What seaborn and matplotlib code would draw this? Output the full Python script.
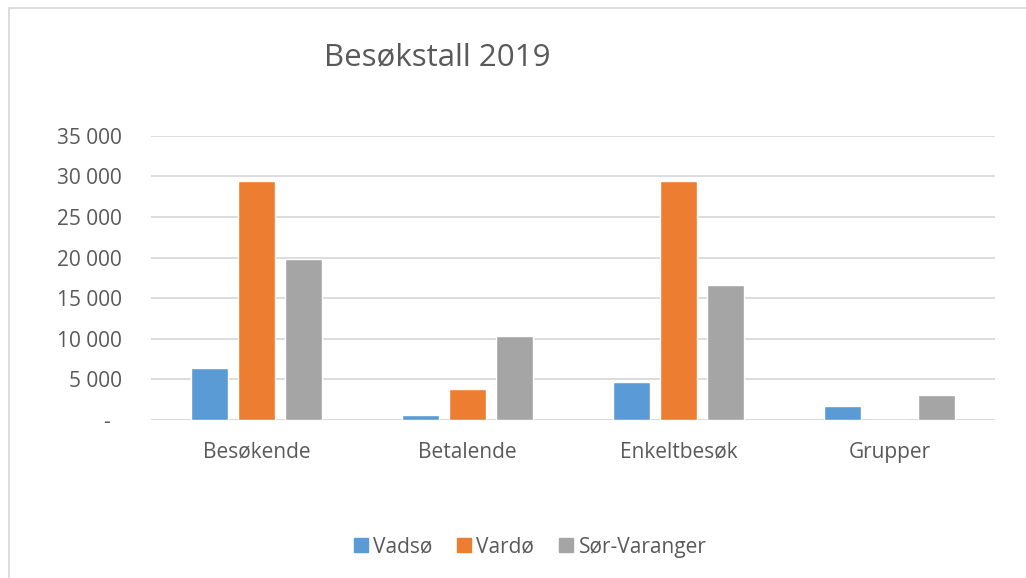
import matplotlib
matplotlib.use("Agg")
import matplotlib.pyplot as plt
import matplotlib.patches as mpatches
import seaborn as sns
import pandas as pd

categories = ["Besøkende", "Betalende", "Enkeltbesøk", "Grupper"]
series_names = ["Vadsø", "Vardø", "Sør-Varanger"]
vadso = [6420, 620, 4650, 1700]
vardo = [29450, 3800, 29400, 0]
sor_varanger = [19830, 10300, 16620, 3130]
y_ticks = [0, 5000, 10000, 15000, 20000, 25000, 30000, 35000]
y_tick_labels = ["-  ", "5 000", "10 000", "15 000", "20 000", "25 000", "30 000", "35 000"]
title = "Besøkstall 2019"

colors = ["#5B9BD5", "#ED7D31", "#A5A5A5"]
text_color = "#595959"

rows = []
for name, vals in zip(series_names, [vadso, vardo, sor_varanger]):
    for c, v in zip(categories, vals):
        rows.append({"Kategori": c, "Sted": name, "Antall": v})
df = pd.DataFrame(rows)

sns.set_theme(style="white")
plt.rcParams["font.family"] = ["Open Sans", "DejaVu Sans"]

fig = plt.figure(figsize=(10.26, 5.78), dpi=100)
ax = fig.add_axes([151 / 1026, 1 - 420 / 578, (995 - 151) / 1026, (420 - 135.7) / 578])

sns.barplot(data=df, x="Kategori", y="Antall", hue="Sted", order=categories,
            hue_order=series_names, palette=colors, width=0.668, gap=0.21,
            saturation=1, ax=ax, legend=False, zorder=3)

ax.set_ylim(0, 35000)
ax.set_xlim(-0.5, len(categories) - 0.5)
ax.set_yticks(y_ticks)
ax.set_yticklabels(y_tick_labels)
ax.yaxis.grid(True, color="#D9D9D9", linewidth=1.3, zorder=0)
ax.set_axisbelow(True)
for s in ax.spines.values():
    s.set_visible(False)
ax.axhline(0, color="#D9D9D9", linewidth=1.3, zorder=1)
ax.set_xlabel("")
ax.set_ylabel("")
ax.tick_params(axis="y", length=0, pad=21, labelsize=15, labelcolor=text_color)
ax.tick_params(axis="x", length=0, pad=15.5, labelsize=15, labelcolor=text_color)

fig.text(437 / 1026, 1 - 57 / 578, title, ha="center", va="center",
         fontsize=22.5, color=text_color)

handles = [mpatches.Patch(color=c, label=n) for c, n in zip(colors, series_names)]
leg = fig.legend(handles=handles, loc="center", bbox_to_anchor=(530 / 1026, 1 - 547 / 578),
                 ncol=3, frameon=False, fontsize=15, handlelength=0.67, handleheight=0.67,
                 handletextpad=0.25, columnspacing=1.2)
for t in leg.get_texts():
    t.set_color(text_color)

border = mpatches.Rectangle((8.5 / 1026, -0.05), 1.2, 1 - 8.5 / 578 + 0.05,
                            transform=fig.transFigure, fill=False,
                            edgecolor="#D9D9D9", linewidth=1.3)
fig.patches.append(border)

fig.savefig("out.png", dpi=100)
